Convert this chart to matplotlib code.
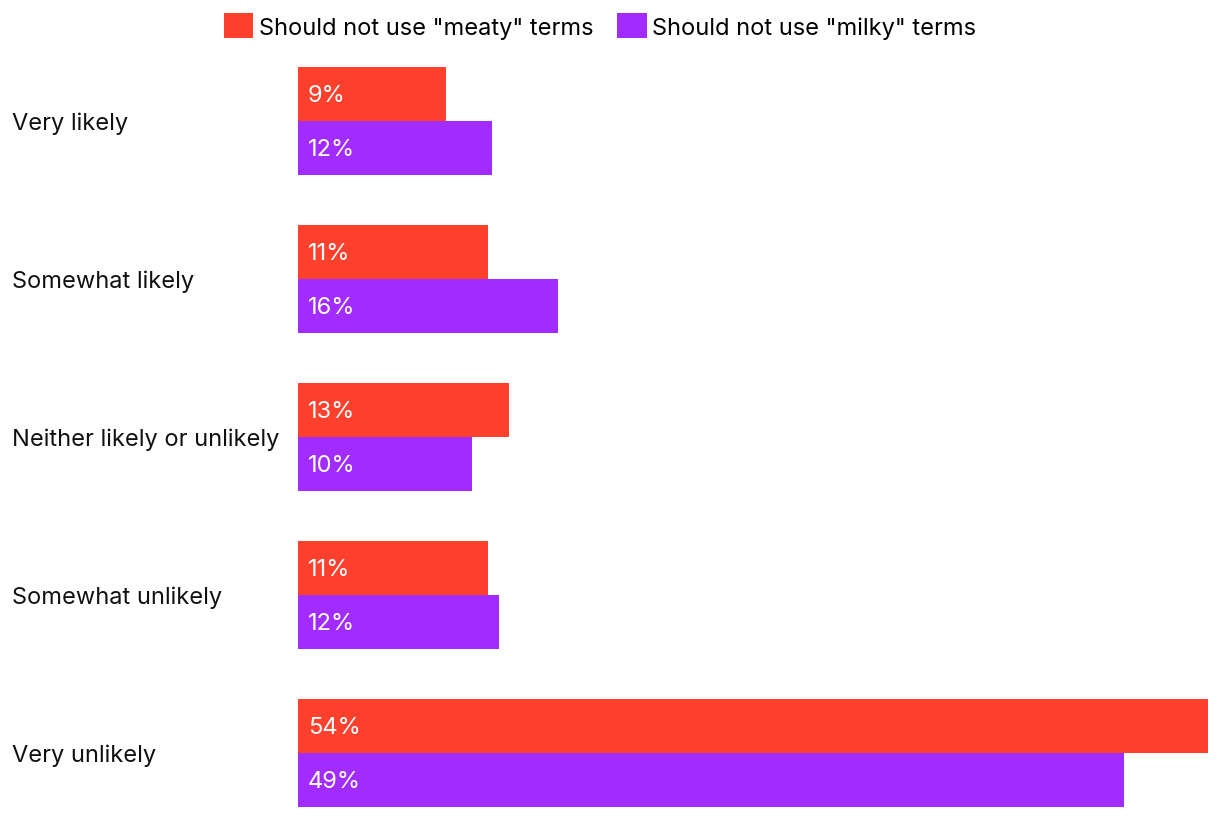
import matplotlib
matplotlib.use("Agg")
import matplotlib.pyplot as plt
from matplotlib.patches import Patch
from matplotlib.transforms import blended_transform_factory

categories = ["Very likely", "Somewhat likely", "Neither likely or unlikely",
              "Somewhat unlikely", "Very unlikely"]
meaty = [8.8, 11.3, 12.5, 11.3, 54.0]
milky = [11.5, 15.4, 10.3, 11.9, 49.0]
meaty_labels = ["9%", "11%", "13%", "11%", "54%"]
milky_labels = ["12%", "16%", "10%", "12%", "49%"]
series_names = ['Should not use "meaty" terms', 'Should not use "milky" terms']

c_meaty = "#FF402D"
c_milky = "#A22BFF"

plt.rcParams['font.family'] = ['Inter', 'DejaVu Sans']

W, H = 1220, 820
fig = plt.figure(figsize=(W/100, H/100), dpi=100)
ax = fig.add_axes([298/W, (H-808)/H, (1208-298)/W, (808-68)/H])

bh = 54/158
ys = list(range(len(categories)))
ax.barh([y - bh/2 for y in ys], meaty, height=bh, color=c_meaty, linewidth=0)
ax.barh([y + bh/2 for y in ys], milky, height=bh, color=c_milky, linewidth=0)
ax.set_ylim(len(categories) - 1 + bh, -bh)
ax.set_xlim(0, max(meaty))
ax.axis('off')

fs = 17
dy = 1.5 / 158
xoff = 10 / (1208-298) * max(meaty)
for y, v, l in zip(ys, meaty, meaty_labels):
    ax.text(xoff, y - bh/2 + dy, l, color='white', fontsize=fs, va='center', ha='left')
for y, v, l in zip(ys, milky, milky_labels):
    ax.text(xoff, y + bh/2 + dy, l, color='white', fontsize=fs, va='center', ha='left')

tr = blended_transform_factory(fig.transFigure, ax.transData)
for y, c in zip(ys, categories):
    ax.text(12/W, y + dy, c, transform=tr, fontsize=fs, va='center', ha='left', color='#111111')

handles = [Patch(facecolor=c_meaty, edgecolor='none'), Patch(facecolor=c_milky, edgecolor='none')]
fig.legend(handles, series_names, loc='center', bbox_to_anchor=(600/W, (H-27)/H),
           ncol=2, frameon=False, fontsize=fs, handlelength=1.25, handleheight=1.25,
           handletextpad=0.25, columnspacing=1.0, borderaxespad=0)

fig.savefig("out.png", dpi=100)
